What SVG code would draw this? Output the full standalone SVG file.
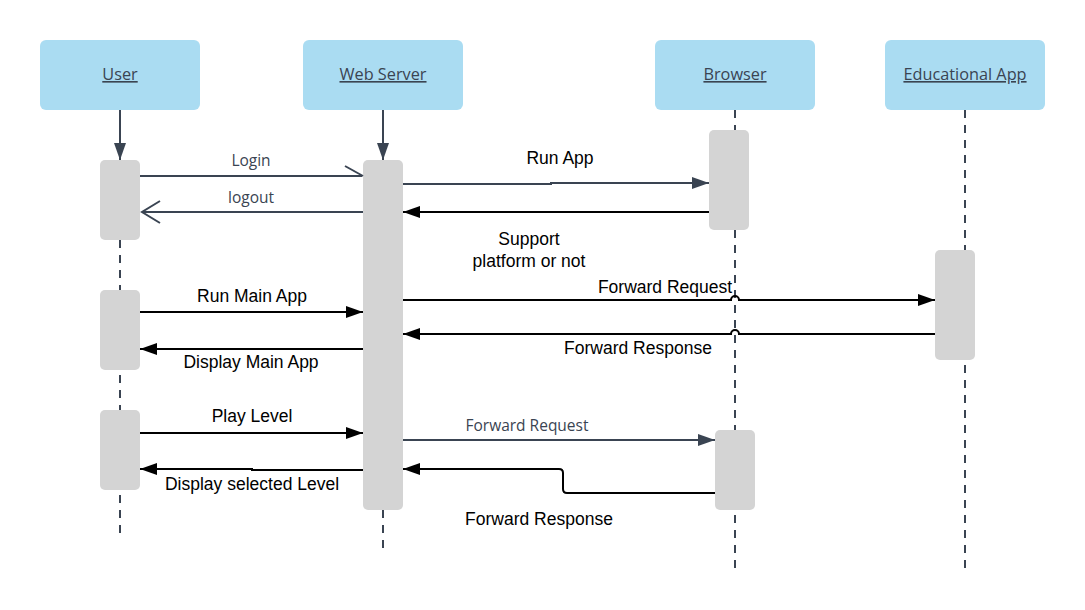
<svg xmlns="http://www.w3.org/2000/svg" width="1085" height="610" viewBox="0 0 1085 610">
<style>
.head{fill:#aadcf2}
.ht{font-family:"Open Sans","Noto Sans",sans-serif;font-size:16.3px;fill:#3a4452;text-anchor:middle;text-decoration:underline}
.act{fill:#d4d4d4}
.life{stroke:#3a4452;stroke-width:2;stroke-dasharray:8,7;fill:none}
.m{stroke:#000;stroke-width:2;fill:none}
.s{stroke:#3a4452;stroke-width:2;fill:none}
.t{font-family:"Liberation Sans",Arial,sans-serif;font-size:17.5px;fill:#000;text-anchor:middle}
.ts{font-family:"Open Sans","Noto Sans",sans-serif;font-size:15.5px;fill:#3a4452;text-anchor:middle}
</style>
<defs>
<marker id="ab" markerUnits="userSpaceOnUse" markerWidth="18" markerHeight="14" refX="17" refY="6" orient="auto"><path d="M0,0 L17,6 L0,12 z" fill="#000"/></marker>
<marker id="as" markerUnits="userSpaceOnUse" markerWidth="18" markerHeight="14" refX="17" refY="6" orient="auto"><path d="M0,0 L17,6 L0,12 z" fill="#3a4452"/></marker>
</defs>
<g id="lifelines">
<line class="life" x1="120" y1="240" x2="120" y2="540"/>
<line class="life" x1="383" y1="510" x2="383" y2="552"/>
<line class="life" x1="735" y1="110" x2="735" y2="572"/>
<line class="life" x1="965" y1="110" x2="965" y2="572"/>
</g>
<g id="user"><rect class="head" x="40" y="40" width="160" height="70" rx="6"/><text class="ht" x="120" y="80">User</text></g>
<g id="webserver"><rect class="head" x="303" y="40" width="160" height="70" rx="6"/><text class="ht" x="383" y="80">Web Server</text></g>
<g id="browser"><rect class="head" x="655" y="40" width="160" height="70" rx="6"/><text class="ht" x="735" y="80">Browser</text></g>
<g id="eduapp"><rect class="head" x="885" y="40" width="160" height="70" rx="6"/><text class="ht" x="965" y="80">Educational App</text></g>
<g id="activations">
<rect class="act" x="100" y="160" width="40" height="80" rx="5"/>
<rect class="act" x="100" y="290" width="40" height="80" rx="5"/>
<rect class="act" x="100" y="410" width="40" height="80" rx="5"/>
<rect class="act" x="363" y="160" width="40" height="350" rx="5"/>
<rect class="act" x="709" y="130" width="40" height="100" rx="5"/>
<rect class="act" x="715" y="430" width="40" height="80" rx="5"/>
<rect class="act" x="935" y="250" width="40" height="110" rx="5"/>
</g>
<g id="connectors">
<line class="s" x1="120" y1="110" x2="120" y2="160" marker-end="url(#as)"/>
<line class="s" x1="383" y1="110" x2="383" y2="160" marker-end="url(#as)"/>
<line class="s" x1="140" y1="176" x2="362" y2="176"/>
<line class="s" x1="345" y1="166" x2="363" y2="176"/>
<line class="s" x1="363" y1="212" x2="142" y2="212"/>
<polyline class="s" points="160,201 142,212 160,223"/>
<path class="s" d="M403,184 H551 V183 H709" marker-end="url(#as)"/>
<line class="m" x1="709" y1="212" x2="403" y2="212" marker-end="url(#ab)"/>
<path class="m" d="M403,300 H731 A4,4 0 0 1 739,300 H935" marker-end="url(#ab)"/>
<path class="m" d="M935,334 H739 A4,4 0 0 0 731,334 H403" marker-end="url(#ab)"/>
<line class="m" x1="140" y1="312" x2="363" y2="312" marker-end="url(#ab)"/>
<line class="m" x1="363" y1="349" x2="140" y2="349" marker-end="url(#ab)"/>
<line class="m" x1="140" y1="433" x2="363" y2="433" marker-end="url(#ab)"/>
<path class="m" d="M363,470 H252 V469 H140" marker-end="url(#ab)"/>
<line class="s" x1="403" y1="440" x2="715" y2="440" marker-end="url(#as)"/>
<path class="m" d="M715,493 H567 Q563,493 563,489 V473 Q563,469 559,469 H403" marker-end="url(#ab)"/>
</g>
<g id="labels">
<text class="ts" x="251" y="166">Login</text>
<text class="ts" x="251" y="203">logout</text>
<text class="t" x="560" y="164">Run App</text>
<text class="t" x="529" y="245">Support</text>
<text class="t" x="529" y="267">platform or not</text>
<text class="t" x="665" y="293">Forward Request</text>
<text class="t" x="638" y="354">Forward Response</text>
<text class="t" x="252" y="302">Run Main App</text>
<text class="t" x="251" y="368">Display Main App</text>
<text class="t" x="252" y="422">Play Level</text>
<text class="t" x="252" y="490">Display selected Level</text>
<text class="ts" x="527" y="431">Forward Request</text>
<text class="t" x="539" y="525">Forward Response</text>
</g>
</svg>
